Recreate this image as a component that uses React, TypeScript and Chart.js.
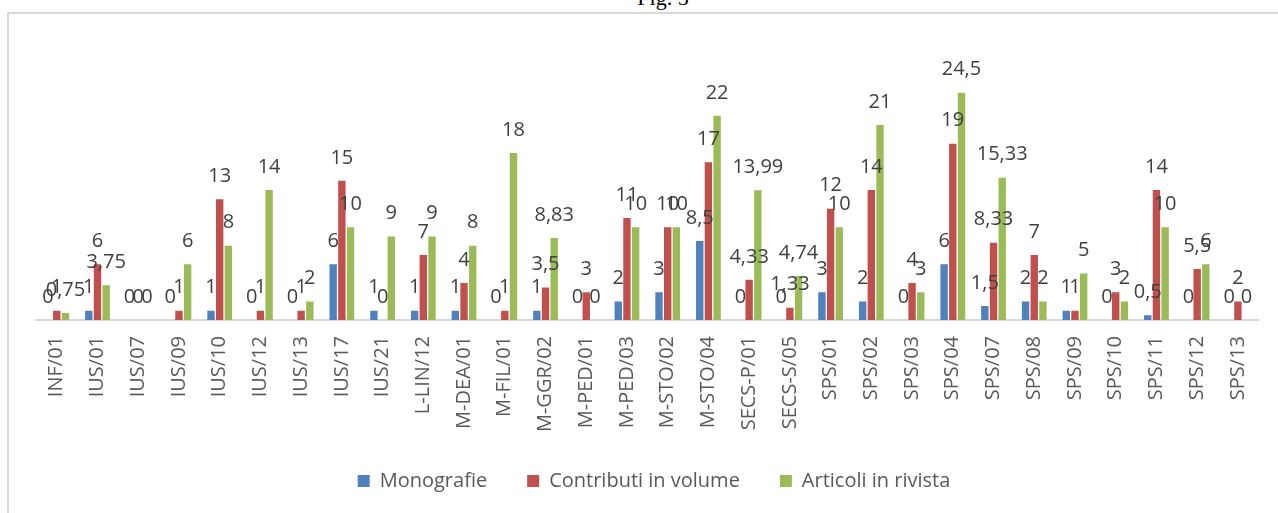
import React, { useEffect, useRef } from "react";
import { Chart, registerables } from "chart.js";

Chart.register(...registerables);

const categories = [
  "INF/01", "IUS/01", "IUS/07", "IUS/09", "IUS/10", "IUS/12", "IUS/13", "IUS/17", "IUS/21",
  "L-LIN/12", "M-DEA/01", "M-FIL/01", "M-GGR/02", "M-PED/01", "M-PED/03", "M-STO/02",
  "M-STO/04", "SECS-P/01", "SECS-S/05", "SPS/01", "SPS/02", "SPS/03", "SPS/04", "SPS/07",
  "SPS/08", "SPS/09", "SPS/10", "SPS/11", "SPS/12", "SPS/13",
];

const monografie = [0, 1, 0, 0, 1, 0, 0, 6, 1, 1, 1, 0, 1, 0, 2, 3, 8.5, 0, 0, 3, 2, 0, 6, 1.5, 2, 1, 0, 0.5, 0, 0];
const contributi = [1, 6, 0, 1, 13, 1, 1, 15, 0, 7, 4, 1, 3.5, 3, 11, 10, 17, 4.33, 1.33, 12, 14, 4, 19, 8.33, 7, 1, 3, 14, 5.5, 2];
const articoli = [0.75, 3.75, 0, 6, 8, 14, 2, 10, 9, 9, 8, 18, 8.83, 0, 10, 10, 22, 13.99, 4.74, 10, 21, 3, 24.5, 15.33, 2, 5, 2, 10, 6, 0];

const seriesNames = ["Monografie", "Contributi in volume", "Articoli in rivista"];
const seriesColors = ["#4F81BD", "#C0504D", "#9BBB59"];

const FONT = "'Open Sans', sans-serif";

const valueLabels = {
  id: "valueLabels",
  afterDatasetsDraw(chart: any) {
    const ctx = chart.ctx;
    ctx.save();
    ctx.font = `20px ${FONT}`;
    ctx.fillStyle = "#404040";
    ctx.textAlign = "center";
    ctx.textBaseline = "middle";
    chart.data.datasets.forEach((ds: any, di: number) => {
      const meta = chart.getDatasetMeta(di);
      meta.data.forEach((el: any, i: number) => {
        const v = ds.data[i];
        const txt = String(v).replace(".", ",");
        ctx.fillText(txt, el.x, el.y - 23);
      });
    });
    ctx.restore();
  },
};

export default function App() {
  const ref = useRef<HTMLCanvasElement | null>(null);

  useEffect(() => {
    if (!ref.current) return;
    const chart = new Chart(ref.current, {
      type: "bar",
      data: {
        labels: categories,
        datasets: [monografie, contributi, articoli].map((d, i) => ({
          label: seriesNames[i],
          data: d,
          backgroundColor: seriesColors[i],
          borderWidth: 0,
          barPercentage: 0.85,
          categoryPercentage: 0.64,
        })),
      },
      options: {
        animation: false,
        responsive: false,
        devicePixelRatio: 1,
        layout: { padding: { left: 36.4, right: 6.4, top: 88, bottom: 12 } },
        scales: {
          x: {
            grid: { display: false, drawTicks: false },
            border: { display: true, color: "#D9D9D9", width: 2 },
            ticks: {
              autoSkip: false,
              minRotation: 90,
              maxRotation: 90,
              padding: 16,
              color: "#595959",
              font: { family: FONT, size: 20 },
            },
            afterFit: (scale: any) => {
              scale.height = 111;
            },
          },
          y: {
            display: false,
            min: 0,
            max: 25,
          },
        },
        plugins: {
          legend: {
            position: "bottom",
            labels: {
              boxWidth: 12,
              boxHeight: 12,
              padding: 40,
              color: "#595959",
              font: { family: FONT, size: 20 },
            },
          },
          tooltip: { enabled: false },
        },
      },
      plugins: [valueLabels],
    });
    return () => chart.destroy();
  }, []);

  return (
    <div
      style={{
        position: "fixed",
        left: 0,
        top: 0,
        width: 1278,
        height: 513,
        overflow: "hidden",
        background: "#ffffff",
      }}
    >
      <div
        style={{
          position: "absolute",
          left: 24,
          top: -13,
          width: 1278,
          textAlign: "center",
          fontFamily: "'Liberation Serif', 'Times New Roman', serif",
          fontSize: 22,
          lineHeight: "22px",
          color: "#000",
        }}
      >
        Fig. 5
      </div>
      <div
        style={{
          position: "absolute",
          left: 7,
          top: 12,
          width: 1300,
          height: 520,
          borderLeft: "2.5px solid #D9D9D9",
          borderTop: "2.5px solid #D9D9D9",
          boxSizing: "border-box",
        }}
      />
      <canvas
        ref={ref}
        width={1278}
        height={513}
        style={{ position: "absolute", left: 0, top: 0, width: 1278, height: 513 }}
      />
    </div>
  );
}
